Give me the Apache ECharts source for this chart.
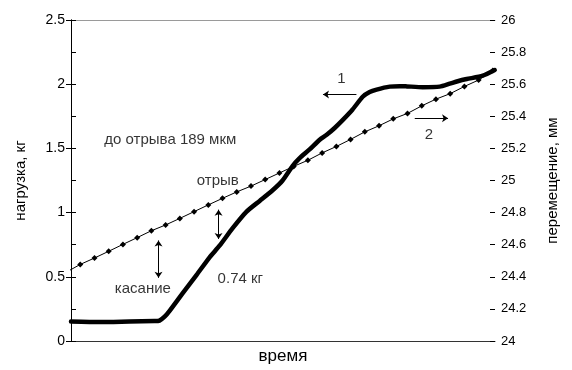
<!DOCTYPE html>
<html>
<head>
<meta charset="utf-8">
<script src="https://cdn.jsdelivr.net/npm/echarts@6/dist/echarts.min.js"></script>
<style>
html,body{margin:0;padding:0;background:#fff;}
#chart{width:572px;height:370px;}
</style>
</head>
<body>
<div id="chart"></div>
<script>
// ---- data ----
// curve 1: load (kg) vs time
const timeLoad = [0, 2.0, 4.11, 5.87, 6.22, 6.58, 6.93, 7.84, 8.83, 9.74, 10.44, 11.36, 12.34, 13.26, 14.17, 14.87, 15.58, 16.07, 16.77, 17.48, 17.97, 18.53, 19.09, 19.79, 20.5, 20.99, 21.48, 22.4, 23.1, 23.59, 24.72, 25.91, 26.62, 27.18, 27.81, 28.94, 29.78];
const load = [0.152, 0.148, 0.152, 0.155, 0.159, 0.189, 0.235, 0.371, 0.515, 0.652, 0.742, 0.879, 1.008, 1.091, 1.174, 1.25, 1.364, 1.424, 1.492, 1.568, 1.606, 1.659, 1.72, 1.803, 1.902, 1.939, 1.958, 1.981, 1.985, 1.983, 1.977, 1.981, 2.004, 2.023, 2.04, 2.066, 2.11];
// curve 2: displacement (mm) vs time
const timeDisp = [-0.35, 0.65, 1.65, 2.65, 3.65, 4.65, 5.65, 6.65, 7.65, 8.65, 9.65, 10.65, 11.65, 12.65, 13.65, 14.65, 15.65, 16.65, 17.65, 18.65, 19.65, 20.65, 21.65, 22.65, 23.65, 24.65, 25.65, 26.65, 27.65, 28.65, 29.65];
const disp = [24.428, 24.477, 24.517, 24.559, 24.602, 24.644, 24.687, 24.723, 24.764, 24.806, 24.848, 24.889, 24.929, 24.965, 25.006, 25.047, 25.088, 25.126, 25.172, 25.212, 25.256, 25.303, 25.341, 25.384, 25.418, 25.465, 25.507, 25.541, 25.586, 25.626, 25.685];
// tick labels
const leftTicks = ['0', '0.5', '1', '1.5', '2', '2.5'];
const rightTicks = ['24', '24.2', '24.4', '24.6', '24.8', '25', '25.2', '25.4', '25.6', '25.8', '26'];
// annotations (time, kg)
const noteText = ['до отрыва 189 мкм', 'отрыв', 'касание', '0.74 кг', '1', '2'];
const noteTime = [6.98, 10.32, 5.05, 11.9, 19.0, 25.16];
const noteLoad = [1.566, 1.25, 0.404, 0.485, 2.038, 1.604];
// arrows: [t1, kg1, t2, kg2, double-headed]
const arrows = [
  [20.06, 1.919, 17.71, 1.919, false],
  [24.16, 1.735, 26.5, 1.735, false],
  [6.15, 0.783, 6.15, 0.492, true],
  [10.37, 1.023, 10.37, 0.795, true]
];

const FONT = 'Liberation Sans, Arial, sans-serif';
const lMin = Number(leftTicks[0]), lMax = Number(leftTicks[leftTicks.length - 1]);
const rMin = Number(rightTicks[0]), rMax = Number(rightTicks[rightTicks.length - 1]);

const chart = echarts.init(document.getElementById('chart'), null, {renderer: 'canvas'});
const option = {
  animation: false,
  backgroundColor: '#fff',
  grid: {left: 71, right: 77, top: 20, bottom: 20, containLabel: false},
  xAxis: [
    {
      type: 'value', min: 0, max: 29.8,
      name: 'время', nameLocation: 'middle', nameGap: 7,
      nameTextStyle: {fontFamily: FONT, fontSize: 17, color: '#000'},
      axisLine: {show: true, onZero: false, lineStyle: {color: '#333', width: 1}},
      axisTick: {show: false}, axisLabel: {show: false}, splitLine: {show: false}
    },
    {
      type: 'value', min: 0, max: 29.8, position: 'top',
      axisLine: {show: true, onZero: false, lineStyle: {color: '#9a9a9a', width: 1}},
      axisTick: {show: false}, axisLabel: {show: false}, splitLine: {show: false}
    }
  ],
  yAxis: [
    {
      type: 'value', min: lMin, max: lMax, interval: 0.5, position: 'left',
      name: 'нагрузка, кг', nameLocation: 'middle', nameGap: 43, nameRotate: 90,
      nameTextStyle: {fontFamily: FONT, fontSize: 15, color: '#000'},
      axisLine: {show: true, lineStyle: {color: '#000', width: 1}},
      axisTick: {show: true, length: 5, lineStyle: {color: '#000'}},
      axisLabel: {fontFamily: FONT, fontSize: 14, color: '#000', margin: 6,
        formatter: (v) => leftTicks[Math.round((v - lMin) / 0.5)]},
      splitLine: {show: false}
    },
    {
      type: 'value', min: rMin, max: rMax, interval: 0.2, position: 'right',
      name: 'перемещение, мм', nameLocation: 'middle', nameGap: 50, nameRotate: 90,
      nameTextStyle: {fontFamily: FONT, fontSize: 15, color: '#000'},
      axisLine: {show: true, lineStyle: {color: '#000', width: 1}},
      axisTick: {show: true, length: 5, lineStyle: {color: '#000'}},
      axisLabel: {fontFamily: FONT, fontSize: 13, color: '#000', margin: 6,
        formatter: (v) => rightTicks[Math.round((v - rMin) / 0.2)]},
      splitLine: {show: false}
    },
    {
      type: 'value', min: rMin, max: rMax, interval: 0.2, position: 'right',
      axisLine: {show: false},
      axisTick: {show: true, inside: true, length: 5, lineStyle: {color: '#000'}},
      axisLabel: {show: false}, splitLine: {show: false}
    }
  ],
  series: [
    {
      name: '1', type: 'line', xAxisIndex: 0, yAxisIndex: 0,
      data: timeLoad.map((t, i) => [t, load[i]]),
      showSymbol: false, symbol: 'none', smooth: 0.2,
      lineStyle: {color: '#000', width: 4.5, cap: 'round', join: 'round'},
      z: 3
    },
    {
      name: '2', type: 'line', xAxisIndex: 0, yAxisIndex: 1,
      data: timeDisp.map((t, i) => [t, disp[i]]),
      clip: true,
      symbol: 'diamond', symbolSize: 6, showAllSymbol: true,
      itemStyle: {color: '#000'},
      lineStyle: {color: '#000', width: 1},
      z: 4
    },
    {
      name: 'notes', type: 'scatter', xAxisIndex: 0, yAxisIndex: 0,
      symbolSize: 1, itemStyle: {color: 'rgba(0,0,0,0)'},
      data: noteText.map((s, i) => ({name: s, value: [noteTime[i], noteLoad[i]]})),
      label: {show: true, position: 'inside', formatter: '{b}',
        fontFamily: FONT, fontSize: 15, color: '#000'},
      silent: true,
      markLine: {
        silent: true, animation: false,
        symbolSize: 6,
        label: {show: false},
        lineStyle: {color: '#000', width: 1, type: 'solid'},
        data: arrows.map(a => [
          {coord: [a[0], a[1]], symbol: a[4] ? 'arrow' : 'none'},
          {coord: [a[2], a[3]], symbol: 'arrow'}
        ])
      },
      z: 5
    }
  ]
};
chart.setOption(option);
</script>
</body>
</html>
